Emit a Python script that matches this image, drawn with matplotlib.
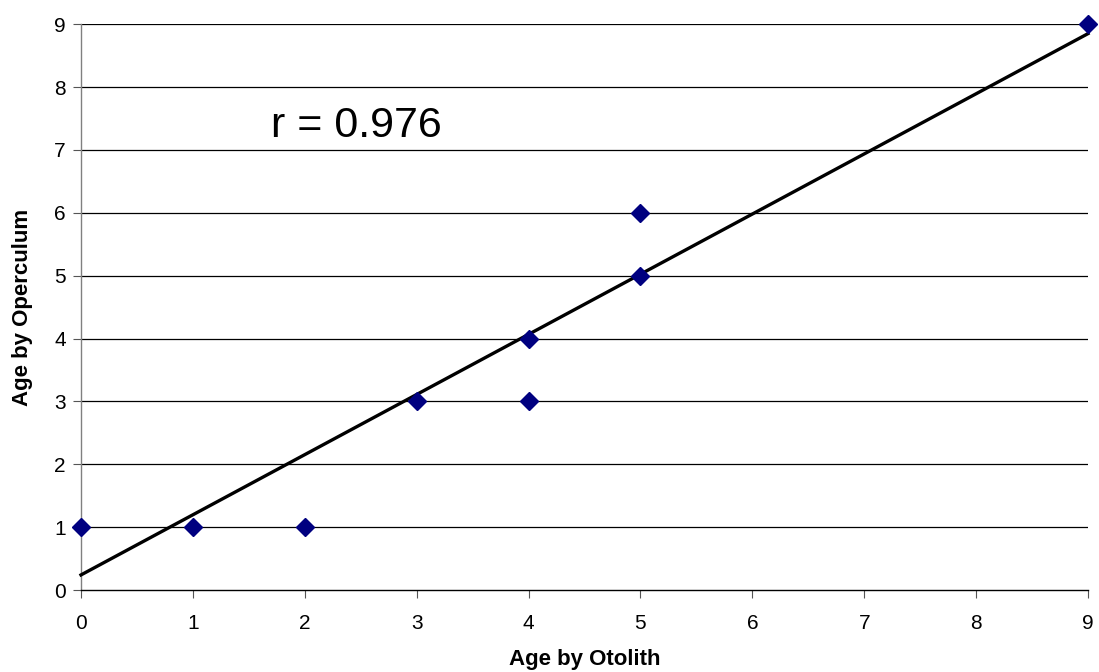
import numpy as np
import matplotlib
matplotlib.use("Agg")
import matplotlib.pyplot as plt

plt.rcParams['font.family'] = ['Liberation Sans', 'DejaVu Sans']

# otolith age vs operculum age
otolith_age = [0, 1, 2, 3, 4, 4, 5, 5, 9]
operculum_age = [1, 1, 1, 3, 4, 3, 5, 6, 9]

# fitted trend line
trend_x = [0, 9]
trend_y = [0.24, 8.85]

r_label = "r = 0.976"
ticks = list(range(0, 10))

fig = plt.figure(figsize=(10.99, 6.72), dpi=100)
ax = fig.add_axes([0.0737, 0.122, 0.9163, 0.842])

ax.set_xlim(0, 9)
ax.set_ylim(0, 9)
ax.set_xticks(ticks)
ax.set_yticks(ticks)

for y in ticks[1:]:
    ax.axhline(y, color="black", lw=0.9, zorder=1)

ax.plot(trend_x, trend_y, color="black", lw=2.4, zorder=3, clip_on=False)
ax.plot(otolith_age, operculum_age, linestyle="none", marker="D", markersize=9.5,
        color="#000080", zorder=4, clip_on=False)

ax.text(1.7, 7.2, r_label, fontsize=31, ha="left", va="baseline")

for side in ["top", "right"]:
    ax.spines[side].set_visible(False)
ax.spines["left"].set_color("#808080")
ax.spines["left"].set_linewidth(1.0)
ax.spines["bottom"].set_color("black")
ax.spines["bottom"].set_linewidth(1.0)

ax.tick_params(axis="both", direction="out", length=6, width=0.8, color="#555555",
               labelsize=15)
ax.tick_params(axis="x", pad=11)
ax.tick_params(axis="y", pad=5)

ax.set_xlabel("Age by Otolith", fontsize=16, fontweight="bold", labelpad=12)
ax.set_ylabel("Age by Operculum", fontsize=16, fontweight="bold", labelpad=15)

fig.savefig("out.png", dpi=100)
